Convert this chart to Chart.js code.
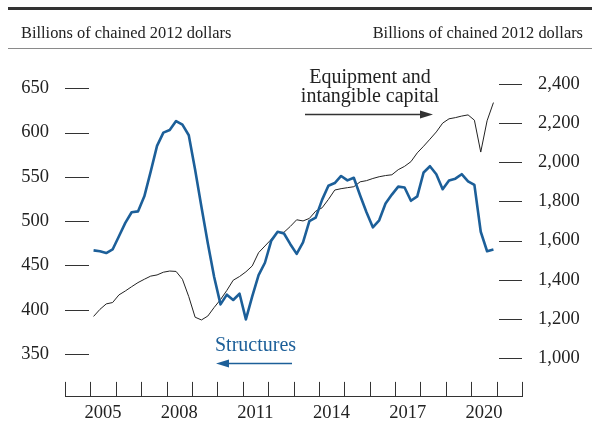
<!DOCTYPE html>
<html>
<head>
<meta charset="utf-8">
<script src="https://cdn.jsdelivr.net/npm/chart.js@4.4.1/dist/chart.umd.min.js"></script>
<style>
  html, body { margin: 0; padding: 0; background: #fff; }
  #wrap { position: relative; width: 592px; height: 424px; overflow: hidden; }
  canvas { position: absolute; left: 0; top: 0; }
  .t { position: absolute; font-family: "Liberation Serif", "Times New Roman", serif; color: #222; white-space: nowrap; }
  .hdr { font-size: 16.4px; line-height: 18px; top: 24px; }
  .rule { position: absolute; left: 8px; right: 0; }
  svg { position: absolute; left: 0; top: 0; }
</style>
</head>
<body>
<div id="wrap">
  <canvas id="c" width="592" height="424"></canvas>
  <div class="rule" style="top:7px;height:3px;background:#333;"></div>
  <div class="rule" style="top:48px;height:1px;background:#8a8a8a;"></div>
  <div class="t hdr" style="left:21px;">Billions of chained 2012 dollars</div>
  <div class="t hdr" style="right:9px;">Billions of chained 2012 dollars</div>
  <div class="t" style="left:215px;top:333px;font-size:20px;line-height:22px;color:#1c5f99;">Structures</div>
  <div class="t" style="left:270px;width:200px;top:67px;font-size:20px;line-height:19px;text-align:center;">Equipment and<br>intangible capital</div>
  <svg width="592" height="424">
    <line x1="292" y1="363.5" x2="226" y2="363.5" stroke="#1c5f99" stroke-width="1.3"/>
    <polygon points="216,363.5 229,359.5 229,367.5" fill="#1c5f99"/>
    <line x1="305" y1="114.5" x2="422" y2="114.5" stroke="#333" stroke-width="1.3"/>
    <polygon points="433,114.5 420,110.5 420,118.5" fill="#333"/>
  </svg>
</div>
<script>
// ---- data (quarterly, 2005Q1 - 2020Q4) ----
const years = [2005, 2006, 2007, 2008, 2009, 2010, 2011, 2012, 2013, 2014, 2015, 2016, 2017, 2018, 2019, 2020];
const quarterOffsets = [0.125, 0.375, 0.625, 0.875];

// Structures, billions of chained 2012 dollars (left axis)
const structures = [
  467, 466, 464, 468,
  483, 498, 510, 511,
  528, 556, 585, 600,
  603, 613, 609, 597,
  558, 516, 475, 437,
  406, 417, 411, 418,
  389, 415, 439, 453,
  478, 488, 486, 474,
  463, 476, 500, 504,
  524, 540, 543, 551,
  546, 549, 529, 510,
  493, 501, 520, 530,
  539, 538, 523, 528,
  555, 562, 553, 536,
  546, 548, 553, 545,
  541, 488, 466, 468
];

// Equipment and intangible capital, billions of chained 2012 dollars (right axis)
const equipment = [
  1212, 1248, 1276, 1283,
  1322, 1342, 1364, 1385,
  1402, 1418, 1424, 1438,
  1444, 1442, 1402, 1313,
  1208, 1194, 1214, 1258,
  1298, 1345, 1397, 1416,
  1440, 1470, 1538, 1572,
  1606, 1642, 1642, 1672,
  1706, 1700, 1713, 1750,
  1767, 1810, 1858, 1865,
  1870, 1875, 1900, 1906,
  1917, 1926, 1932, 1936,
  1962, 1979, 2003, 2048,
  2082, 2118, 2155, 2200,
  2222, 2228, 2236, 2242,
  2215, 2052, 2212, 2305
];

const leftTicks = [350, 400, 450, 500, 550, 600, 650];
const rightTicks = [1000, 1200, 1400, 1600, 1800, 2000, 2200, 2400];
const yearLabels = [2005, 2008, 2011, 2014, 2017, 2020];
const yearTickMarks = [2004, 2005, 2006, 2007, 2008, 2009, 2010, 2011, 2012, 2013, 2014, 2015, 2016, 2017, 2018, 2019, 2020, 2021, 2022];

// ---- build points ----
const quarterX = [];
years.forEach(y => quarterOffsets.forEach(o => quarterX.push(y + o)));
const structPts = structures.map((v, i) => ({ x: quarterX[i], y: v }));
const equipPts = equipment.map((v, i) => ({ x: quarterX[i], y: v }));

const FONT = { family: '"Liberation Serif", "Times New Roman", serif', size: 18.5 };
const TXT = '#222';

const tickMarks = {
  id: 'tickMarks',
  afterDatasetsDraw(chart) {
    const ctx = chart.ctx;
    const a = chart.chartArea;
    const sx = chart.scales.x, yl = chart.scales.yL, yr = chart.scales.yR;
    ctx.save();
    ctx.strokeStyle = '#333';
    ctx.lineWidth = 1;
    ctx.beginPath();
    leftTicks.forEach(v => {
      const y = Math.round(yl.getPixelForValue(v)) + 0.5;
      ctx.moveTo(a.left, y); ctx.lineTo(a.left + 24, y);
    });
    rightTicks.forEach(v => {
      const y = Math.round(yr.getPixelForValue(v)) + 0.5;
      ctx.moveTo(a.right - 23, y); ctx.lineTo(a.right, y);
    });
    yearTickMarks.forEach(v => {
      const x = Math.round(sx.getPixelForValue(v)) + 0.5;
      ctx.moveTo(x, a.bottom); ctx.lineTo(x, a.bottom - 15);
    });
    ctx.stroke();
    ctx.restore();
  }
};

new Chart(document.getElementById('c'), {
  type: 'line',
  data: {
    datasets: [
      { label: 'Structures', data: structPts, yAxisID: 'yL', borderColor: '#1c5f99', borderWidth: 2.6,
        pointRadius: 0, tension: 0, fill: false, borderJoinStyle: 'round' },
      { label: 'Equipment and intangible capital', data: equipPts, yAxisID: 'yR', borderColor: '#222', borderWidth: 1,
        pointRadius: 0, tension: 0, fill: false }
    ]
  },
  options: {
    responsive: false,
    animation: false,
    devicePixelRatio: 1,
    layout: { padding: { top: 60, left: 0, right: 0, bottom: 0 } },
    plugins: { legend: { display: false }, tooltip: { enabled: false } },
    scales: {
      x: {
        type: 'linear', min: 2004, max: 2022,
        grid: { display: false, drawTicks: false },
        border: { display: true, color: '#333', width: 1 },
        afterBuildTicks: s => { s.ticks = yearLabels.map(v => ({ value: v + 0.5 })); },
        ticks: { font: FONT, color: TXT, padding: 5, maxRotation: 0, autoSkip: false,
          callback: v => String(Math.floor(v)) },
        afterFit: s => { s.height = 27; }
      },
      yL: {
        type: 'linear', position: 'left', min: 301.5, max: 682,
        grid: { display: false, drawTicks: false },
        border: { display: false },
        afterBuildTicks: s => { s.ticks = leftTicks.map(v => ({ value: v })); },
        ticks: { font: FONT, color: TXT, padding: 16, callback: v => String(v) },
        afterFit: s => { s.width = 65; }
      },
      yR: {
        type: 'linear', position: 'right', min: 800.7, max: 2522.6,
        grid: { display: false, drawTicks: false },
        border: { display: false },
        afterBuildTicks: s => { s.ticks = rightTicks.map(v => ({ value: v })); },
        ticks: { font: FONT, color: TXT, padding: 16, callback: v => v.toLocaleString('en-US') },
        afterFit: s => { s.width = 70; }
      }
    }
  },
  plugins: [tickMarks]
});
</script>
</body>
</html>
